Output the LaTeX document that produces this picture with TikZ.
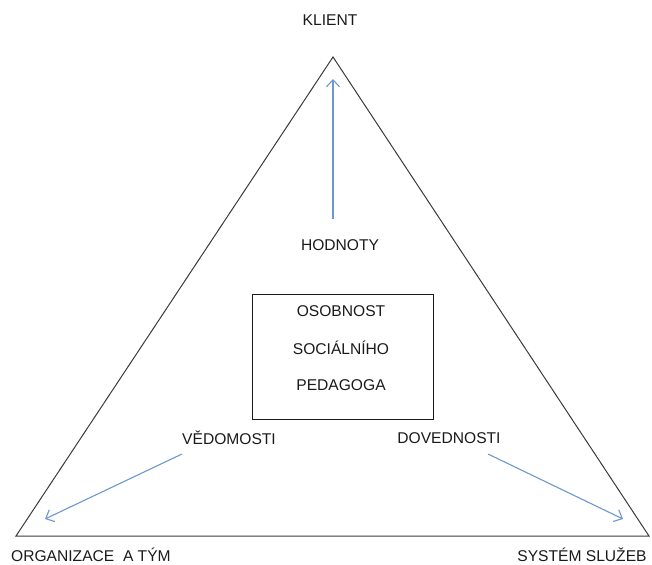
\documentclass[tikz,border=0pt]{standalone}
\usepackage{fontspec}
\setmainfont{Liberation Sans}
\usetikzlibrary{arrows.meta}
\definecolor{edge}{HTML}{3A3A3A}
\definecolor{arr}{HTML}{6F97CF}
\definecolor{txt}{HTML}{1A1A1A}
\begin{document}
\begin{tikzpicture}[x=1pt,y=-1pt,
  lbl/.style={font=\fontsize{15.6}{18}\selectfont, text=txt, inner sep=0pt},
  tri/.style={draw=edge, line width=1pt, line join=miter},
  flow/.style={draw=arr, line width=1.1pt, -{Straight Barb[length=7pt,width=13pt,line width=1.1pt]}},
  frame/.style={draw=txt, line width=1pt}]
\useasboundingbox (0,0) rectangle (652,564);
\coordinate (top) at (333,57);
\coordinate (bl) at (16,536);
\coordinate (br) at (649,536);
\draw[tri] (top) -- (br) -- (bl) -- cycle;
\node[frame, minimum width=181pt, minimum height=125pt, inner sep=0pt] (box) at (342.5,356.5) {};
\node[lbl] (klient) at (330,20) {KLIENT};
\node[lbl] (hodnoty) at (340,245) {HODNOTY};
\node[lbl] (osob) at (341,311) {OSOBNOST};
\node[lbl] (soc) at (341,348) {SOCIÁLNÍHO};
\node[lbl] (ped) at (341,385) {PEDAGOGA};
\node[lbl] (ved) at (229,438) {VĚDOMOSTI};
\node[lbl] (dov) at (449,438) {DOVEDNOSTI};
\node[lbl, anchor=west] (org) at (11,555) {ORGANIZACE\ \ A TÝM};
\node[lbl] (sys) at (582,555) {SYSTÉM SLUŽEB};
\coordinate (h0) at (333,219);
\coordinate (h1) at (333,79);
\coordinate (v0) at (182,454);
\coordinate (v1) at (45,519);
\coordinate (d0) at (488,454);
\coordinate (d1) at (623,519);
\draw[flow] (h0) -- (h1);
\draw[flow] (v0) -- (v1);
\draw[flow] (d0) -- (d1);
\end{tikzpicture}
\end{document}
